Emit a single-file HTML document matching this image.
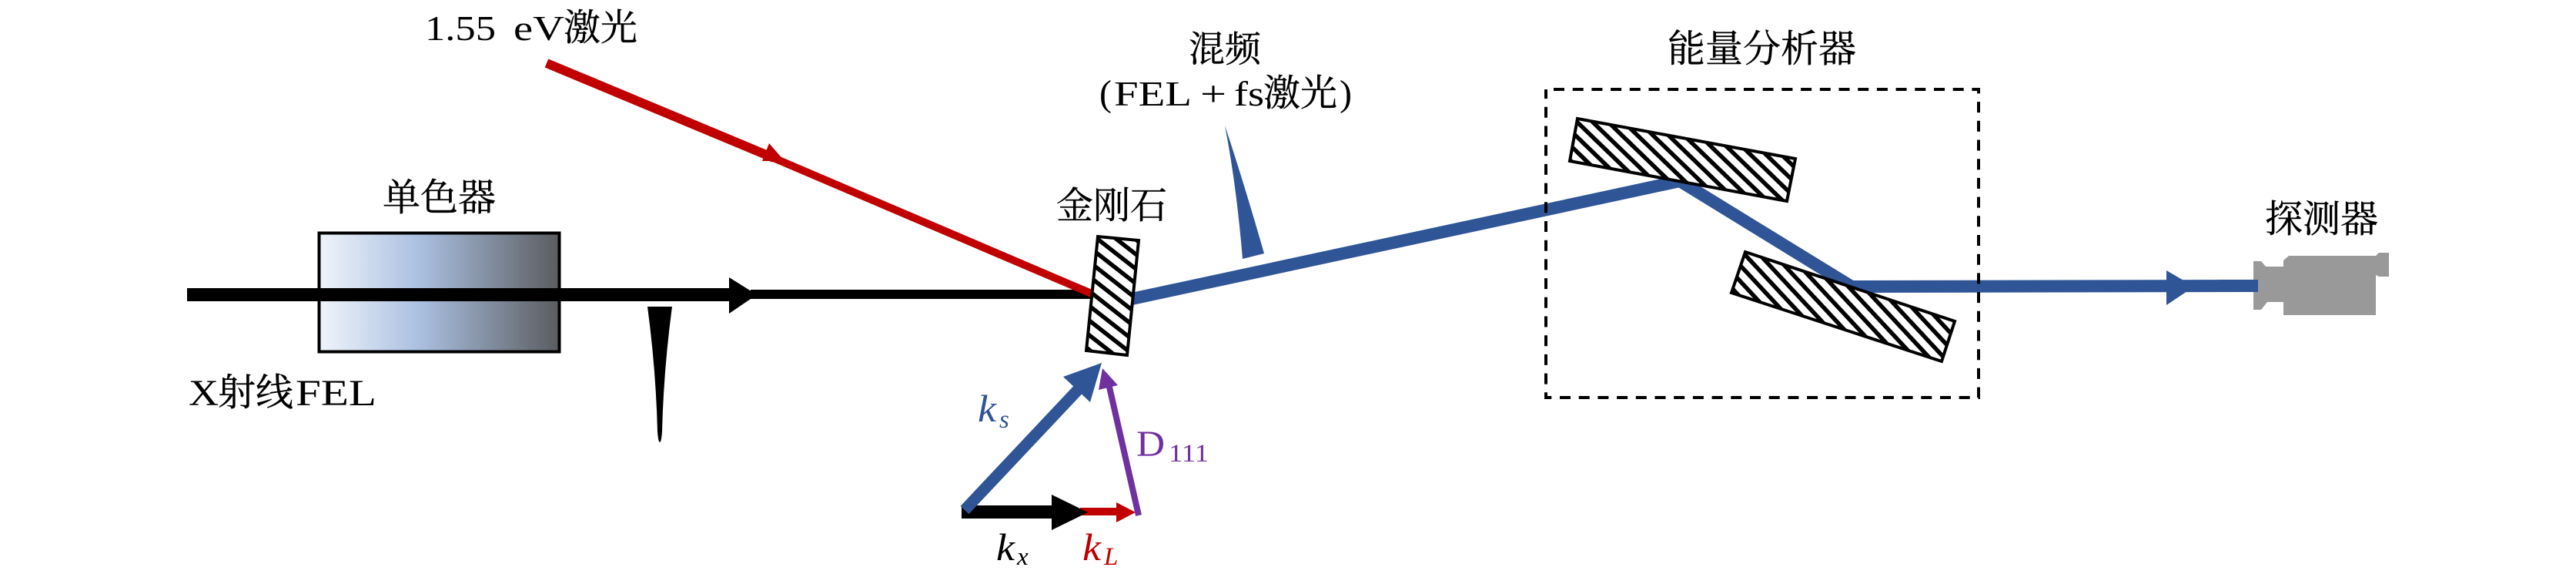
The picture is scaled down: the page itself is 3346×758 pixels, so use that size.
<!DOCTYPE html>
<html><head><meta charset="utf-8"><style>
html,body{margin:0;padding:0;background:#fff;width:3346px;height:758px;overflow:hidden}
svg{display:block}
.l{font-family:"Liberation Serif",serif}
.i{font-family:"Liberation Serif",serif;font-style:italic}
.c{font-family:"Noto Serif CJK SC","Liberation Serif",serif;stroke:#000;stroke-width:.4px}
</style></head><body>
<svg width="3346" height="758" viewBox="0 0 3346 758" xmlns="http://www.w3.org/2000/svg">
<defs>
<linearGradient id="g" x1="0" x2="1" y1="0" y2="0">
<stop offset="0" stop-color="#f0f4fb"/><stop offset=".42" stop-color="#aabfe0"/><stop offset="1" stop-color="#5a5c60"/>
</linearGradient>
<pattern id="h1" patternUnits="userSpaceOnUse" width="14" height="14" patternTransform="translate(2048 154) rotate(44)"><rect width="14" height="14" fill="#fff"/><rect width="14" height="5.500" fill="#000"/></pattern>
<pattern id="h2" patternUnits="userSpaceOnUse" width="14" height="14" patternTransform="translate(2267 327) rotate(47)"><rect width="14" height="14" fill="#fff"/><rect width="14" height="5.500" fill="#000"/></pattern>
<pattern id="h3" patternUnits="userSpaceOnUse" width="15" height="15" patternTransform="translate(1426 307) rotate(38)"><rect width="15" height="15" fill="#fff"/><rect width="15" height="5.500" fill="#000"/></pattern>
</defs>

<!-- monochromator -->
<rect x="414.500" y="302.500" width="312" height="154" fill="url(#g)" stroke="#000" stroke-width="4"/>
<!-- X-ray beam -->
<rect x="243" y="374" width="710" height="17" fill="#000"/>
<path d="M947 360 L983 382.500 L947 407Z" fill="#000"/>
<rect x="975" y="376" width="447" height="12" fill="#000"/>
<path d="M841 398 L873 398 Q862 480 860 560 Q859 574 857 574 Q855 574 854 560 Q852 480 841 398Z" fill="#000"/>

<!-- red laser -->
<line x1="710" y1="82" x2="1005" y2="205" stroke="#c00000" stroke-width="12"/>
<line x1="1000" y1="203" x2="1420" y2="382" stroke="#c00000" stroke-width="10"/>
<path d="M999 186 L1019 209 L990 209Z" fill="#c00000"/>

<!-- blue beam -->
<polyline points="1470,388 2182,235 2405,372 2933,371" fill="none" stroke="#2f5597" stroke-width="16" stroke-linejoin="miter"/>
<path d="M2814 351 L2850 372 L2814 396Z" fill="#2f5597"/>
<path d="M1591 163 Q1606 240 1614 336 L1642 329 Q1615 235 1591 163Z" fill="#2f5597"/>

<!-- camera -->
<path d="M2927 339 L2937 339 L2943 346 L2966 346 L2966 338 L2973 332 L3086 332 L3090 328 L3103 328 L3103 359 L3090 359 L3086 357 L3086 409 L2966 409 L2966 392 L2945 392 L2937 402 L2927 402Z" fill="#999"/>
<rect x="2883" y="363" width="50" height="16" fill="#2f5597"/>

<!-- crystal -->
<path d="M1426 307 L1479 312 L1464 461 L1411 455Z" fill="url(#h3)" stroke="#000" stroke-width="4"/>
<!-- analyser crystals -->
<path d="M2049 154 L2332 206 L2321 261 L2039 209Z" fill="url(#h1)" stroke="#000" stroke-width="4"/>
<path d="M2267 327 L2539 417 L2522 469 L2249 380Z" fill="url(#h2)" stroke="#000" stroke-width="4"/>

<!-- dashed box -->
<rect x="2008" y="116" width="562" height="400" fill="none" stroke="#000" stroke-width="4" stroke-dasharray="14 10.700" stroke-dashoffset="-10"/>

<!-- wave vector diagram -->
<rect x="1403" y="659" width="50" height="10" fill="#c00000"/>
<path d="M1450 652 L1475 665 L1450 678Z" fill="#c00000"/>
<rect x="1249" y="656" width="120" height="17" fill="#000"/>
<path d="M1366 642 L1413 665 L1366 688Z" fill="#000"/>
<line x1="1253" y1="662" x2="1401" y2="505" stroke="#2f5597" stroke-width="15"/>
<path d="M1381 489 L1431 471 L1416 522Z" fill="#2f5597"/>
<line x1="1479" y1="669" x2="1440" y2="498" stroke="#7030a0" stroke-width="8"/>
<path d="M1432 478 L1452 500 L1427 506Z" fill="#7030a0"/>

<!-- labels -->
<text class="l" x="552" y="52" font-size="45" textLength="92" lengthAdjust="spacingAndGlyphs">1.55</text>
<text class="l" x="667" y="52" font-size="45" textLength="66" lengthAdjust="spacingAndGlyphs">eV</text>
<text class="c" x="732" y="52" font-size="48">激光</text>
<text class="c" x="497" y="273" font-size="49">单色器</text>
<text class="l" x="245" y="526" font-size="48" textLength="39" lengthAdjust="spacingAndGlyphs">X</text>
<text class="c" x="283" y="526" font-size="49">射线</text>
<text class="l" x="384" y="526" font-size="48" textLength="105" lengthAdjust="spacingAndGlyphs">FEL</text>
<text class="c" x="1544" y="80" font-size="47">混频</text>
<text class="l" x="1428" y="137" font-size="48">(</text>
<text class="l" x="1447" y="137" font-size="46" textLength="101" lengthAdjust="spacingAndGlyphs">FEL</text>
<text class="l" x="1559" y="137" font-size="46" textLength="34" lengthAdjust="spacingAndGlyphs">+</text>
<text class="l" x="1603" y="137" font-size="46" textLength="39" lengthAdjust="spacingAndGlyphs">fs</text>
<text class="c" x="1641" y="137" font-size="48">激光</text>
<text class="l" x="1740" y="137" font-size="48">)</text>
<text class="c" x="1372" y="283" font-size="48">金刚石</text>
<text class="c" x="2166" y="80" font-size="49">能量分析器</text>
<text class="c" x="2942" y="301" font-size="49">探测器</text>
<text class="i" x="1270" y="547" font-size="50" fill="#2f5597" textLength="24" lengthAdjust="spacingAndGlyphs">k</text>
<text class="i" x="1298" y="555" font-size="33" fill="#2f5597">s</text>
<text class="l" x="1476" y="592" font-size="48" fill="#7030a0" textLength="37" lengthAdjust="spacingAndGlyphs">D</text>
<text class="l" x="1518" y="599" font-size="33" fill="#7030a0" textLength="52" lengthAdjust="spacingAndGlyphs">111</text>
<text class="i" x="1294" y="727" font-size="50" fill="#000" textLength="24" lengthAdjust="spacingAndGlyphs">k</text>
<text class="i" x="1321" y="733" font-size="33" fill="#000">x</text>
<text class="i" x="1406" y="727" font-size="50" fill="#c00000" textLength="24" lengthAdjust="spacingAndGlyphs">k</text>
<text class="i" x="1434" y="733" font-size="33" fill="#c00000">L</text>
</svg>
</body></html>
